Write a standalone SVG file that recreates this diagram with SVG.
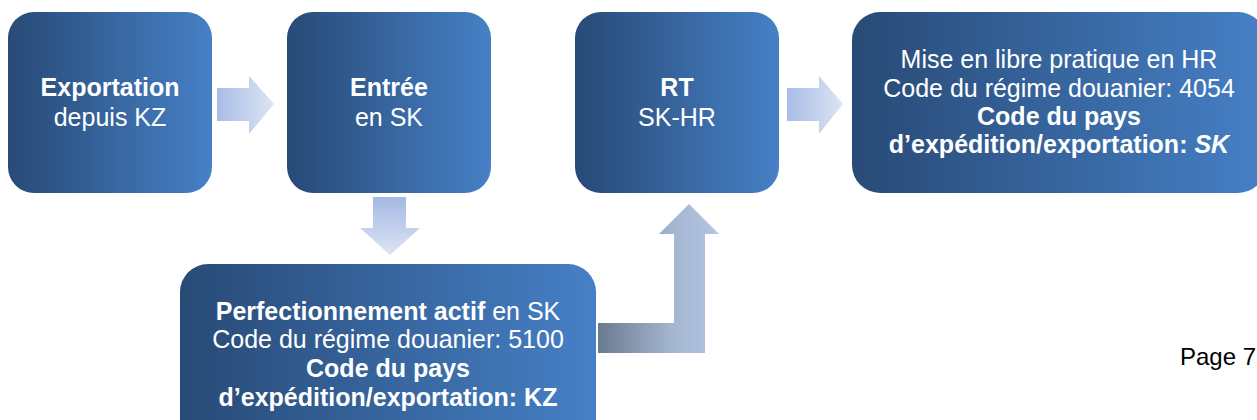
<svg xmlns="http://www.w3.org/2000/svg" width="1257" height="420" viewBox="0 0 1257 420">
  <defs>
    <linearGradient id="boxFill" x1="0" y1="0" x2="1" y2="0">
      <stop offset="0" stop-color="#284a76"/>
      <stop offset="1" stop-color="#4680c6"/>
    </linearGradient>
    <linearGradient id="arrowH" x1="0" y1="0" x2="1" y2="0">
      <stop offset="0" stop-color="#a7bce6"/>
      <stop offset="1" stop-color="#dde5f4"/>
    </linearGradient>
    <linearGradient id="arrowV" x1="0" y1="0" x2="0" y2="1">
      <stop offset="0" stop-color="#a4b8e2"/>
      <stop offset="1" stop-color="#dde5f4"/>
    </linearGradient>
    <linearGradient id="arrowBent" gradientUnits="userSpaceOnUse" x1="598" y1="0" x2="719" y2="0">
      <stop offset="0" stop-color="#6a7a8f"/>
      <stop offset="0.6" stop-color="#a3b5cf"/>
      <stop offset="1" stop-color="#b3c6e2"/>
    </linearGradient>
  </defs>
  <style>
    .box { fill: url(#boxFill); }
    text { font-family: "Liberation Sans", Arial, sans-serif; font-size: 25px; fill: #ffffff; text-anchor: middle; }
    .b { font-weight: bold; }
    .page { fill: #000000; text-anchor: start; font-size: 24px; }
  </style>

  <rect width="1257" height="420" fill="#ffffff"/>

  <!-- connectors -->
  <g id="connectors">
    <path d="M217,88 H249 V76 L274,104 L249,134 V121 H217 Z" fill="url(#arrowH)"/>
    <path d="M787,88 H819 V76 L843,104 L819,134 V121 H787 Z" fill="url(#arrowH)"/>
    <path d="M373,197 H406 V228 H420 L390,255 L360,228 H373 Z" fill="url(#arrowV)"/>
    <path d="M598,323 H674 V234 H659 L689,204 L719,234 H705 V353 H598 Z" fill="url(#arrowBent)"/>
  </g>

  <!-- Exportation depuis KZ -->
  <g id="node-export">
    <rect class="box" x="8" y="12" width="204" height="181" rx="26"/>
    <text x="110" y="96"><tspan class="b">Exportation</tspan></text>
    <text x="110" y="126">depuis KZ</text>
  </g>

  <!-- Entrée en SK -->
  <g id="node-entree">
    <rect class="box" x="287" y="12" width="204" height="181" rx="26"/>
    <text x="389" y="96"><tspan class="b">Entrée</tspan></text>
    <text x="389" y="126">en SK</text>
  </g>

  <!-- RT SK-HR -->
  <g id="node-rt">
    <rect class="box" x="575" y="12" width="204" height="181" rx="26"/>
    <text x="677" y="96"><tspan class="b">RT</tspan></text>
    <text x="677" y="126">SK-HR</text>
  </g>

  <!-- Mise en libre pratique en HR -->
  <g id="node-libre-pratique">
    <rect class="box" x="852" y="12" width="414" height="181" rx="28"/>
    <text x="1059" y="68">Mise en libre pratique en HR</text>
    <text x="1059" y="97">Code du régime douanier: 4054</text>
    <text x="1059" y="125" class="b">Code du pays</text>
    <text x="1059" y="153" class="b">d’expédition/exportation: <tspan font-style="italic">SK</tspan></text>
  </g>

  <!-- Perfectionnement actif en SK -->
  <g id="node-perfectionnement">
    <rect class="box" x="180" y="264" width="416" height="190" rx="28"/>
    <text x="388" y="320"><tspan class="b">Perfectionnement actif</tspan> en SK</text>
    <text x="388" y="348">Code du régime douanier: 5100</text>
    <text x="388" y="377" class="b">Code du pays</text>
    <text x="388" y="406" class="b">d’expédition/exportation: KZ</text>
  </g>

  <text class="page" x="1180" y="365">Page 7</text>
</svg>
